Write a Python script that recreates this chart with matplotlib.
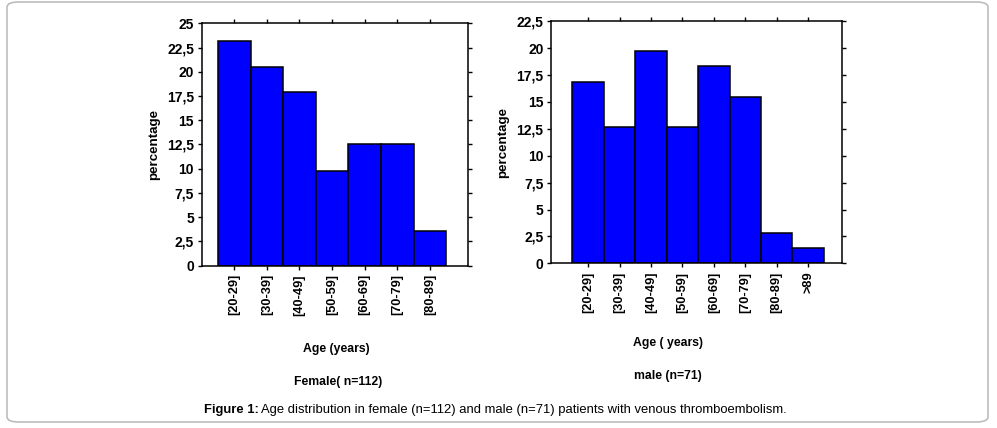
import matplotlib.pyplot as plt
from matplotlib.patches import FancyBboxPatch
from matplotlib.ticker import FuncFormatter

# age groups and percentages
female_groups = ['[20-29]', '[30-39]', '[40-49]', '[50-59]', '[60-69]', '[70-79]', '[80-89]']
female_pct = [23.2, 20.5, 17.9, 9.8, 12.5, 12.5, 3.6]

male_groups = ['[20-29]', '[30-39]', '[40-49]', '[50-59]', '[60-69]', '[70-79]', '[80-89]', '>89']
male_pct = [16.9, 12.7, 19.7, 12.7, 18.3, 15.5, 2.8, 1.4]

plt.rcParams['font.family'] = ['Liberation Sans', 'DejaVu Sans']

fig = plt.figure(figsize=(9.97, 4.28), dpi=100)

# rounded frame round the whole figure
frame = FancyBboxPatch((7 / 997, 1 - 422 / 428), 981 / 997, 420 / 428,
                       boxstyle='round,pad=0,rounding_size=0.012',
                       transform=fig.transFigure, facecolor='none',
                       edgecolor='#bdbdbd', linewidth=1.2)
fig.patches.append(frame)

comma = FuncFormatter(lambda v, p: ('%g' % v).replace('.', ','))


def draw(ax, groups, pct, ymax, xlim):
    x = list(range(1, len(groups) + 1))
    ax.bar(x, pct, width=1.0, color='#0000ff', edgecolor='black', linewidth=1.1)
    ax.set_xlim(*xlim)
    ax.set_ylim(0, ymax)
    ax.set_yticks([i * 2.5 for i in range(int(ymax / 2.5) + 1)])
    ax.yaxis.set_major_formatter(comma)
    ax.set_xticks(x)
    ax.set_xticklabels(groups, rotation=90, fontsize=9.2, fontweight='bold')
    for lab in ax.get_yticklabels():
        lab.set_fontweight('bold')
    ax.tick_params(axis='y', labelsize=10, direction='out', length=3, width=1,
                   right=True, pad=2.5)
    ax.tick_params(axis='x', direction='out', length=3, width=1, top=True, pad=3)
    for s in ax.spines.values():
        s.set_linewidth(1.1)
    ax.set_ylabel('percentage', fontsize=9.6, fontweight='bold', labelpad=5)


ax1 = fig.add_axes([0.2023, 0.3792, 0.2668, 0.5664])
draw(ax1, female_groups, female_pct, 25, (0.0, 8.16))

ax2 = fig.add_axes([0.5527, 0.3848, 0.2922, 0.5654])
draw(ax2, male_groups, male_pct, 22.5, (-0.18, 9.09))

fig.text(336.7 / 997, 1 - 349 / 428, 'Age (years)', ha='center', va='center',
         fontsize=8.8, fontweight='bold')
fig.text(337.7 / 997, 1 - 381.5 / 428, 'Female( n=112)', ha='center', va='center',
         fontsize=8.8, fontweight='bold')
fig.text(668 / 997, 1 - 343 / 428, 'Age ( years)', ha='center', va='center',
         fontsize=8.8, fontweight='bold')
fig.text(667.7 / 997, 1 - 376 / 428, 'male (n=71)', ha='center', va='center',
         fontsize=8.8, fontweight='bold')

fig.text(204 / 997, 1 - 410 / 428, 'Figure 1:', ha='left', va='center',
         fontsize=9.4, fontweight='bold')
fig.text(261 / 997, 1 - 410 / 428,
         'Age distribution in female (n=112) and male (n=71) patients with venous thromboembolism.',
         ha='left', va='center', fontsize=9.4)

fig.savefig('out.png', dpi=100)
